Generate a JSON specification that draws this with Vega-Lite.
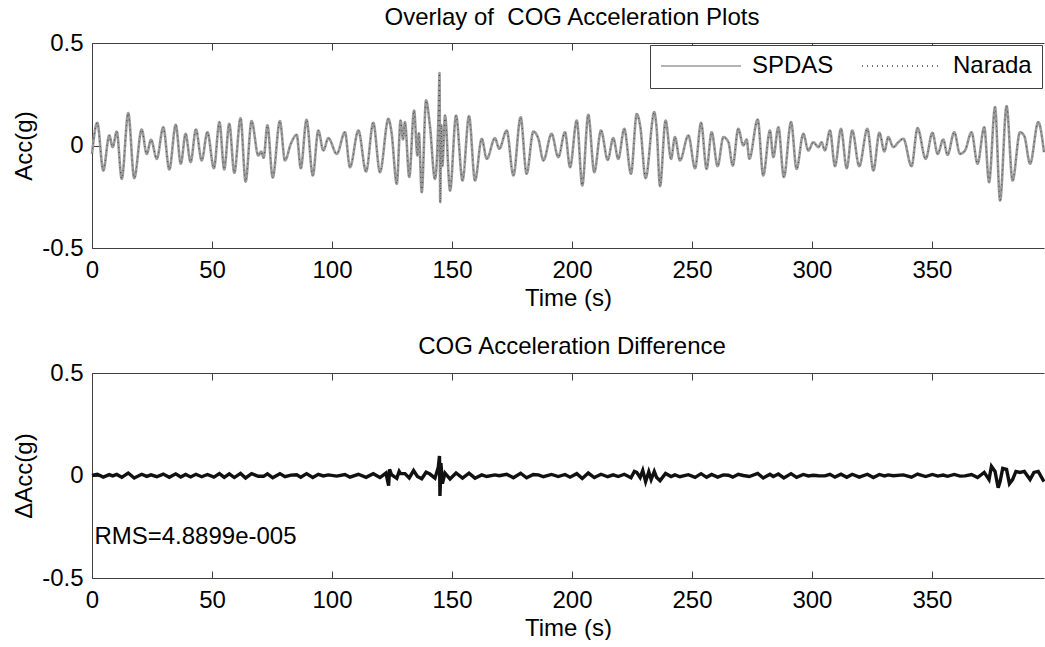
{
  "$schema": "https://vega.github.io/schema/vega-lite/v6.json",
  "background": "white",
  "padding": {"left": 12, "top": 6, "right": 0, "bottom": 0},
  "spacing": 25,
  "config": {
    "font": "Liberation Sans",
    "view": {"stroke": null},
    "axis": {"grid": false, "domainColor": "#404040", "tickColor": "#404040", "tickSize": -7, "labelFontSize": 24, "labelColor": "black", "titleFontSize": 24, "titleFontWeight": "normal", "titleColor": "black", "labelFont": "Liberation Sans", "titleFont": "Liberation Sans", "labelFlush": false},
    "title": {"fontSize": 24, "fontWeight": "normal", "color": "black", "font": "Liberation Sans", "anchor": "middle"}
  },
  "datasets": {
    "acc": [
      {"t":0,"a":-0.04},{"t":2.2,"a":0.111},{"t":4.7,"a":-0.122},{"t":7.2,"a":0.049},{"t":8.6,"a":-0.008},{"t":10.3,"a":0.068},{"t":12.4,"a":-0.163},{"t":15.1,"a":0.158},{"t":17.6,"a":-0.159},{"t":20.7,"a":0.078},{"t":22.8,"a":-0.041},{"t":24.6,"a":0.028},{"t":27.0,"a":-0.065},{"t":29.7,"a":0.089},{"t":32.2,"a":-0.117},{"t":34.9,"a":0.101},{"t":37.0,"a":-0.089},{"t":39.0,"a":0.057},{"t":41.1,"a":-0.081},{"t":43.3,"a":0.078},{"t":45.7,"a":-0.073},{"t":48.1,"a":0.065},{"t":50.8,"a":-0.111},{"t":53.1,"a":0.114},{"t":55.1,"a":-0.117},{"t":57.2,"a":0.106},{"t":59.3,"a":-0.133},{"t":61.9,"a":0.133},{"t":64.0,"a":-0.176},{"t":66.5,"a":0.119},{"t":69.3,"a":-0.049},{"t":70.5,"a":-0.03},{"t":71.5,"a":-0.06},{"t":73.1,"a":0.098},{"t":75.3,"a":-0.156},{"t":78.3,"a":0.119},{"t":80.4,"a":-0.073},{"t":82.9,"a":0.01},{"t":85.3,"a":0.052},{"t":87.0,"a":-0.111},{"t":89.4,"a":0.125},{"t":92.0,"a":-0.146},{"t":94.3,"a":0.073},{"t":96.4,"a":-0.024},{"t":98.5,"a":0.036},{"t":102.0,"a":-0.041},{"t":105.4,"a":0.065},{"t":107.5,"a":-0.106},{"t":111.0,"a":0.073},{"t":114.2,"a":-0.127},{"t":117.2,"a":0.111},{"t":120.0,"a":-0.13},{"t":123.5,"a":0.13},{"t":124.8,"a":0.065},{"t":127.0,"a":-0.187},{"t":128.6,"a":0.122},{"t":129.6,"a":0.03},{"t":130.4,"a":0.114},{"t":132.2,"a":-0.154},{"t":134.2,"a":0.171},{"t":135.6,"a":-0.049},{"t":136.2,"a":0.06},{"t":137.4,"a":-0.228},{"t":139.2,"a":0.22},{"t":140.8,"a":0.098},{"t":142.9,"a":-0.163},{"t":144.5,"a":0.2},{"t":144.8,"a":0.353},{"t":145.1,"a":-0.276},{"t":145.5,"a":0.1},{"t":146.0,"a":-0.1},{"t":147.1,"a":0.146},{"t":149.2,"a":-0.22},{"t":151.7,"a":0.146},{"t":154.4,"a":-0.171},{"t":157.1,"a":0.143},{"t":159.6,"a":-0.171},{"t":162.4,"a":0.033},{"t":164.5,"a":-0.065},{"t":167.9,"a":0.036},{"t":169.7,"a":-0.016},{"t":172.8,"a":0.073},{"t":175.6,"a":-0.146},{"t":178.6,"a":0.138},{"t":181.1,"a":-0.138},{"t":183.9,"a":0.068},{"t":186.0,"a":0.033},{"t":188.1,"a":-0.073},{"t":191.5,"a":0.057},{"t":194.3,"a":-0.057},{"t":197.1,"a":0.065},{"t":199.2,"a":-0.106},{"t":202.0,"a":0.122},{"t":204.3,"a":-0.195},{"t":206.8,"a":0.15},{"t":209.3,"a":-0.13},{"t":212.1,"a":0.073},{"t":214.9,"a":-0.07},{"t":217.2,"a":0.036},{"t":219.3,"a":-0.065},{"t":221.8,"a":0.081},{"t":224.6,"a":-0.138},{"t":227.0,"a":0.154},{"t":228.4,"a":0.098},{"t":230.7,"a":-0.159},{"t":234.3,"a":0.163},{"t":235.3,"a":0.081},{"t":236.7,"a":-0.198},{"t":239.0,"a":0.122},{"t":241.3,"a":-0.065},{"t":242.9,"a":0.041},{"t":245.0,"a":-0.073},{"t":248.5,"a":0.049},{"t":251.3,"a":-0.111},{"t":253.8,"a":0.111},{"t":256.1,"a":-0.114},{"t":258.2,"a":0.065},{"t":260.7,"a":-0.101},{"t":263.1,"a":0.041},{"t":265.2,"a":0.016},{"t":267.0,"a":-0.098},{"t":269.3,"a":0.081},{"t":271.4,"a":0.0},{"t":272.8,"a":0.029},{"t":273.9,"a":-0.065},{"t":277.4,"a":0.127},{"t":279.7,"a":-0.146},{"t":282.5,"a":0.073},{"t":283.9,"a":-0.057},{"t":286.0,"a":0.089},{"t":288.3,"a":-0.154},{"t":291.3,"a":0.114},{"t":293.6,"a":-0.114},{"t":296.4,"a":0.057},{"t":298.5,"a":-0.024},{"t":300.6,"a":0.016},{"t":302.7,"a":-0.008},{"t":304.0,"a":0.016},{"t":305.4,"a":-0.024},{"t":307.5,"a":0.073},{"t":309.6,"a":-0.101},{"t":312.1,"a":0.081},{"t":314.5,"a":-0.111},{"t":316.8,"a":0.073},{"t":319.7,"a":-0.101},{"t":323.1,"a":0.081},{"t":325.6,"a":-0.122},{"t":328.1,"a":0.062},{"t":330.2,"a":-0.029},{"t":331.8,"a":0.041},{"t":333.9,"a":-0.008},{"t":336.0,"a":0.016},{"t":338.1,"a":0.033},{"t":341.5,"a":-0.101},{"t":344.0,"a":0.085},{"t":347.4,"a":-0.065},{"t":350.2,"a":0.062},{"t":352.4,"a":-0.041},{"t":354.7,"a":0.029},{"t":356.5,"a":-0.046},{"t":359.3,"a":0.065},{"t":361.7,"a":-0.041},{"t":363.8,"a":-0.024},{"t":366.5,"a":0.065},{"t":369.0,"a":-0.089},{"t":371.8,"a":0.089},{"t":373.8,"a":-0.179},{"t":376.3,"a":0.187},{"t":378.4,"a":-0.268},{"t":381.1,"a":0.192},{"t":383.6,"a":-0.171},{"t":386.7,"a":0.065},{"t":388.5,"a":0.046},{"t":390.9,"a":-0.089},{"t":394.3,"a":0.114},{"t":396.7,"a":-0.033}
    ],
    "diff": [
      {"t":0,"d":0},{"t":2.2,"d":0.006},{"t":4.7,"d":-0.008},{"t":7.2,"d":0.004},{"t":8.6,"d":-0.002},{"t":10.3,"d":0.005},{"t":12.4,"d":-0.009},{"t":15.1,"d":0.012},{"t":17.6,"d":-0.012},{"t":20.7,"d":0.006},{"t":22.8,"d":-0.004},{"t":24.6,"d":0.003},{"t":27.0,"d":-0.006},{"t":29.7,"d":0.007},{"t":32.2,"d":-0.009},{"t":34.9,"d":0.008},{"t":37.0,"d":-0.007},{"t":39.0,"d":0.005},{"t":41.1,"d":-0.007},{"t":43.3,"d":0.006},{"t":45.7,"d":-0.006},{"t":48.1,"d":0.005},{"t":50.8,"d":-0.008},{"t":53.1,"d":0.009},{"t":55.1,"d":-0.009},{"t":57.2,"d":0.008},{"t":59.3,"d":-0.01},{"t":61.9,"d":0.01},{"t":64.0,"d":-0.012},{"t":66.5,"d":0.009},{"t":69.3,"d":-0.004},{"t":71.5,"d":-0.004},{"t":73.1,"d":0.008},{"t":75.3,"d":-0.011},{"t":78.3,"d":0.009},{"t":80.4,"d":-0.006},{"t":82.9,"d":0.002},{"t":85.3,"d":0.004},{"t":87.0,"d":-0.008},{"t":89.4,"d":0.009},{"t":92.0,"d":-0.01},{"t":94.3,"d":0.006},{"t":96.4,"d":-0.002},{"t":98.5,"d":0.003},{"t":102.0,"d":-0.003},{"t":105.4,"d":0.005},{"t":107.5,"d":-0.008},{"t":111.0,"d":0.006},{"t":114.2,"d":-0.009},{"t":117.2,"d":0.009},{"t":120.0,"d":-0.01},{"t":122.5,"d":0.012},{"t":123.6,"d":-0.05},{"t":124.0,"d":0.03},{"t":124.8,"d":0.004},{"t":127.0,"d":-0.014},{"t":128.0,"d":0.02},{"t":128.6,"d":0.009},{"t":130.4,"d":0.009},{"t":132.2,"d":-0.012},{"t":134.0,"d":0.024},{"t":135.6,"d":-0.005},{"t":137.4,"d":-0.016},{"t":139.2,"d":0.016},{"t":140.8,"d":0.007},{"t":142.9,"d":-0.013},{"t":144.3,"d":0.04},{"t":144.8,"d":0.095},{"t":145.0,"d":-0.1},{"t":145.4,"d":0.06},{"t":146.0,"d":-0.04},{"t":147.1,"d":0.012},{"t":149.2,"d":-0.017},{"t":151.7,"d":0.012},{"t":154.4,"d":-0.013},{"t":157.1,"d":0.011},{"t":159.6,"d":-0.013},{"t":162.4,"d":0.003},{"t":164.5,"d":-0.005},{"t":167.9,"d":0.003},{"t":169.7,"d":-0.001},{"t":172.8,"d":0.006},{"t":175.6,"d":-0.011},{"t":178.6,"d":0.011},{"t":181.1,"d":-0.011},{"t":183.9,"d":0.005},{"t":186.0,"d":0.003},{"t":188.1,"d":-0.006},{"t":191.5,"d":0.005},{"t":194.3,"d":-0.005},{"t":197.1,"d":0.005},{"t":199.2,"d":-0.008},{"t":202.0,"d":0.009},{"t":204.3,"d":-0.015},{"t":206.8,"d":0.012},{"t":209.3,"d":-0.01},{"t":212.1,"d":0.006},{"t":214.9,"d":-0.006},{"t":217.2,"d":0.003},{"t":219.3,"d":-0.005},{"t":221.8,"d":0.006},{"t":224.6,"d":-0.011},{"t":226.0,"d":0.02},{"t":227.0,"d":0.015},{"t":228.4,"d":-0.01},{"t":229.5,"d":0.025},{"t":230.7,"d":-0.03},{"t":232.0,"d":0.018},{"t":233.0,"d":-0.02},{"t":234.3,"d":0.02},{"t":235.3,"d":-0.01},{"t":236.7,"d":-0.025},{"t":239.0,"d":0.01},{"t":241.3,"d":-0.005},{"t":242.9,"d":0.003},{"t":245.0,"d":-0.006},{"t":248.5,"d":0.004},{"t":251.3,"d":-0.009},{"t":253.8,"d":0.009},{"t":256.1,"d":-0.009},{"t":258.2,"d":0.005},{"t":260.7,"d":-0.008},{"t":263.1,"d":0.003},{"t":265.2,"d":0.001},{"t":267.0,"d":-0.008},{"t":269.3,"d":0.006},{"t":271.4,"d":0.0},{"t":273.9,"d":-0.005},{"t":277.4,"d":0.01},{"t":279.7,"d":-0.012},{"t":282.5,"d":0.006},{"t":283.9,"d":-0.005},{"t":286.0,"d":0.007},{"t":288.3,"d":-0.012},{"t":291.3,"d":0.009},{"t":293.6,"d":-0.009},{"t":296.4,"d":0.005},{"t":298.5,"d":-0.002},{"t":300.6,"d":0.001},{"t":302.7,"d":-0.001},{"t":305.4,"d":-0.002},{"t":307.5,"d":0.006},{"t":309.6,"d":-0.008},{"t":312.1,"d":0.006},{"t":314.5,"d":-0.009},{"t":316.8,"d":0.006},{"t":319.7,"d":-0.008},{"t":323.1,"d":0.006},{"t":325.6,"d":-0.01},{"t":328.1,"d":0.005},{"t":330.2,"d":-0.002},{"t":331.8,"d":0.003},{"t":333.9,"d":-0.001},{"t":338.1,"d":0.003},{"t":341.5,"d":-0.008},{"t":344.0,"d":0.007},{"t":347.4,"d":-0.005},{"t":350.2,"d":0.005},{"t":352.4,"d":-0.003},{"t":354.7,"d":0.002},{"t":356.5,"d":-0.004},{"t":359.3,"d":0.005},{"t":361.7,"d":-0.003},{"t":363.8,"d":-0.002},{"t":366.5,"d":0.005},{"t":369.0,"d":-0.01},{"t":371.8,"d":0.015},{"t":373.8,"d":-0.02},{"t":374.8,"d":0.045},{"t":376.3,"d":0.02},{"t":377.6,"d":-0.06},{"t":378.4,"d":-0.03},{"t":379.5,"d":0.035},{"t":381.1,"d":0.03},{"t":382.3,"d":-0.04},{"t":383.6,"d":-0.02},{"t":385.0,"d":0.02},{"t":386.7,"d":0.015},{"t":388.5,"d":0.02},{"t":390.9,"d":-0.02},{"t":392.5,"d":0.015},{"t":394.3,"d":0.02},{"t":396.7,"d":-0.03}
    ],
    "note": [{"t":1.0,"v":-0.3,"label":"RMS=4.8899e-005"}]
  },
  "vconcat": [
    {
      "width": 952,
      "height": 205,
      "title": {"text": "Overlay of \u00a0COG Acceleration Plots", "offset": 1, "dx": 4},
      "layer": [
        {
          "data": {"name": "acc"},
          "mark": {"type": "line", "strokeWidth": 2.6, "interpolate": "monotone"},
          "encoding": {
            "x": {"field": "t", "type": "quantitative", "scale": {"domain": [0, 396.7], "nice": false, "zero": false},
                  "axis": {"orient": "bottom", "values": [0,50,100,150,200,250,300,350], "title": "Time (s)", "labelPadding": 17, "titlePadding": 4}},
            "y": {"field": "a", "type": "quantitative", "scale": {"domain": [-0.5, 0.5], "nice": false},
                  "axis": {"values": [-0.5, 0, 0.5], "title": "Acc(g)", "labelExpr": "replace(format(datum.value, '~g'), '\u2212', '-')", "labelPadding": 16, "titlePadding": 5}},
            "color": {"datum": "SPDAS", "scale": {"domain": ["SPDAS", "Narada"], "range": ["#9a9a9a", "#444444"]},
                      "legend": {"title": null, "orient": "top-right", "offset": 2, "direction": "horizontal", "symbolType": "stroke", "symbolSize": 6400, "symbolStrokeWidth": 1.5, "clipHeight": 22, "labelFontSize": 24, "labelColor": "black", "labelOffset": 10, "columnPadding": 27, "padding": 10, "strokeColor": "#404040", "fillColor": "white", "cornerRadius": 0}},
            "strokeDash": {"datum": "SPDAS", "scale": {"domain": ["SPDAS", "Narada"], "range": [[1, 0], [1, 4]]},
                      "legend": {"title": null, "orient": "top-right", "offset": 2, "direction": "horizontal", "symbolType": "stroke", "symbolSize": 6400, "symbolStrokeWidth": 1.5, "clipHeight": 22, "labelFontSize": 24, "labelColor": "black", "labelOffset": 10, "columnPadding": 27, "padding": 10, "strokeColor": "#404040", "fillColor": "white", "cornerRadius": 0}}
          }
        },
        {
          "data": {"name": "acc"},
          "mark": {"type": "line", "strokeWidth": 1, "interpolate": "monotone"},
          "encoding": {
            "x": {"field": "t", "type": "quantitative",
                  "axis": {"orient": "top", "values": [0,50,100,150,200,250,300,350], "labels": false, "title": null}},
            "y": {"field": "a", "type": "quantitative"},
            "color": {"datum": "Narada"},
            "strokeDash": {"datum": "Narada"}
          }
        }
      ],
      "resolve": {"axis": {"x": "independent"}}
    },
    {
      "width": 952,
      "height": 205,
      "title": {"text": "COG Acceleration Difference", "offset": 2, "dx": 4},
      "layer": [
        {
          "data": {"name": "diff"},
          "mark": {"type": "line", "strokeWidth": 3.4, "color": "#111111"},
          "encoding": {
            "x": {"field": "t", "type": "quantitative", "scale": {"domain": [0, 396.7], "nice": false, "zero": false},
                  "axis": {"orient": "bottom", "values": [0,50,100,150,200,250,300,350], "title": "Time (s)", "labelPadding": 17, "titlePadding": 4}},
            "y": {"field": "d", "type": "quantitative", "scale": {"domain": [-0.5, 0.5], "nice": false},
                  "axis": {"values": [-0.5, 0, 0.5], "title": "ΔAcc(g)", "labelExpr": "replace(format(datum.value, '~g'), '\u2212', '-')", "labelPadding": 16, "titlePadding": 5}}
          }
        },
        {
          "data": {"name": "note"},
          "mark": {"type": "text", "align": "left", "baseline": "middle", "fontSize": 24, "color": "black", "font": "Liberation Sans"},
          "encoding": {
            "x": {"field": "t", "type": "quantitative",
                  "axis": {"orient": "top", "values": [0,50,100,150,200,250,300,350], "labels": false, "title": null}},
            "y": {"field": "v", "type": "quantitative"},
            "text": {"field": "label"}
          }
        }
      ],
      "resolve": {"axis": {"x": "independent"}}
    }
  ]
}
